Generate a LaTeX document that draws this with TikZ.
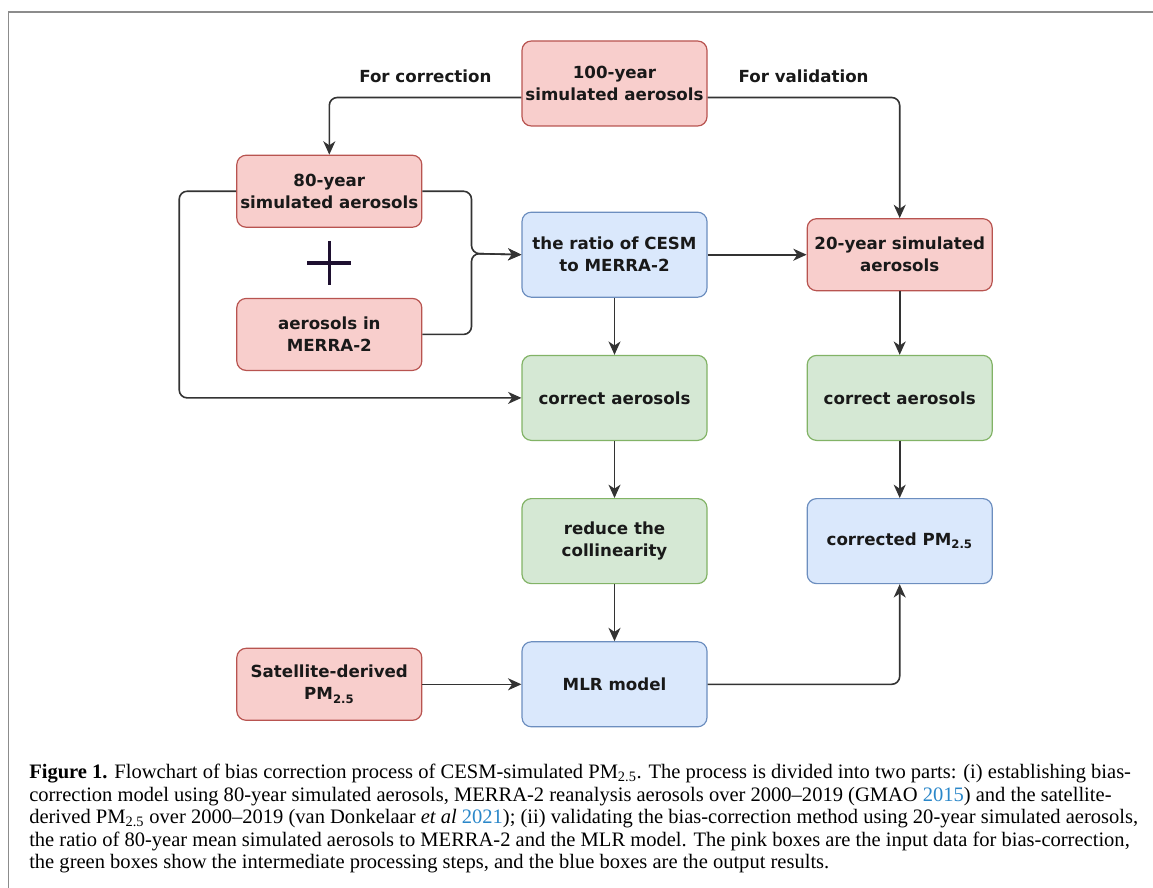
\documentclass[tikz,border=0pt]{standalone}
\usepackage{fontspec}
\setmainfont{Liberation Serif}
\setsansfont{DejaVu Sans}
\usepackage{xcolor}
\definecolor{pinkFill}{HTML}{F8CECC}
\definecolor{pinkLine}{HTML}{B85450}
\definecolor{blueFill}{HTML}{DAE8FC}
\definecolor{blueLine}{HTML}{6C8EBF}
\definecolor{greenFill}{HTML}{D5E8D4}
\definecolor{greenLine}{HTML}{82B366}
\definecolor{lineDark}{HTML}{333333}
\definecolor{frameGray}{HTML}{8C8C8C}
\definecolor{citeBlue}{HTML}{2A87C9}
\definecolor{plusDark}{HTML}{1E1030}
\usepackage{tikz}
\usetikzlibrary{positioning,calc,arrows.meta}
\tikzset{%
  flowBox/.style={%
    rectangle,
    rounded corners=7pt,
    line width=0.9pt,
    minimum width=138.75pt,
    minimum height=63.75pt,
    align=center,
    inner sep=2pt,
    text=black!90,
    font=\sffamily\bfseries\fontsize{12.5}{16.5}\selectfont
  },
  inputBox/.style={%
    flowBox,
    draw=pinkLine,
    fill=pinkFill,
    minimum height=54pt
  },
  stepBox/.style={%
    flowBox,
    draw=greenLine,
    fill=greenFill
  },
  outputBox/.style={%
    flowBox,
    draw=blueLine,
    fill=blueFill
  },
  arrowLine/.style={%
    -{Stealth[length=10pt,width=9pt,inset=3pt]},
    line width=1.2pt,
    color=lineDark,
    rounded corners=6pt
  },
  pathLabel/.style={%
    font=\sffamily\bfseries\fontsize{12.5}{15}\selectfont,
    text=black!90
  }
}

\begin{document}
\begin{tikzpicture}[x=0.75pt, y=-0.75pt]
  \useasboundingbox (0,0) rectangle (1153,888);
  \draw[frameGray, line width=1.3pt] (8.4,895) -- (8.4,12.3) -- (1160,12.3);

  % middle column
  \node[inputBox, minimum height=63.75pt] (hundred) at (614.5,83.5) {100-year\\simulated aerosols};
  \node[outputBox, below=63.75pt of hundred] (ratio) {the ratio of CESM\\to MERRA-2};
  \node[stepBox, below=42.75pt of ratio] (correctMid) {correct aerosols};
  \node[stepBox, below=42.75pt of correctMid] (reduce) {reduce the\\collinearity};
  \node[outputBox, below=42.75pt of reduce] (mlr) {MLR model};

  % right column
  \node[inputBox, right=74.25pt of ratio] (twenty) {20-year simulated\\aerosols};
  \node[stepBox, right=74.25pt of correctMid] (correctRight) {correct aerosols};
  \node[outputBox, right=74.25pt of reduce] (corrected) {corrected PM\textsubscript{2.5}};

  % left column
  \node[inputBox, left=74.25pt of ratio, yshift=47.6pt] (eighty) {80-year\\simulated aerosols};
  \node[inputBox, below=52.5pt of eighty] (merra) {aerosols in\\MERRA-2};
  \node[inputBox, left=74.25pt of mlr] (satellite) {Satellite-derived\\PM\textsubscript{2.5}};

  % plus sign
  \coordinate (plusMid) at ($(eighty.south)!0.5!(merra.north)$);
  \draw[plusDark, line width=2.7pt] ([yshift=16.5pt]plusMid) -- ([yshift=-16.5pt]plusMid)
    ([xshift=-16.5pt]plusMid) -- ([xshift=16.5pt]plusMid);

  % connectors
  \draw[arrowLine] ([yshift=-10.5pt]hundred.west) -| node[pathLabel, pos=0.25, above=7pt] (corrLabel) {For correction} (eighty.north);
  \draw[arrowLine] ([yshift=-10.5pt]hundred.east) -| node[pathLabel, pos=0.25, above=7pt] (valLabel) {For validation} (twenty.north);
  \coordinate (merge) at (471.5,253.5);
  \draw[arrowLine] (eighty.east) -| (merge) -- (ratio.west);
  \draw[arrowLine] (merra.east) -| (merge) -- (ratio.west);
  \draw[arrowLine] (eighty.west) -- ++(-57,0) |- (correctMid.west);
  \draw[arrowLine] (ratio) -- (twenty);
  \draw[arrowLine] (ratio) -- (correctMid);
  \draw[arrowLine] (correctMid) -- (reduce);
  \draw[arrowLine] (reduce) -- (mlr);
  \draw[arrowLine] (twenty) -- (correctRight);
  \draw[arrowLine] (correctRight) -- (corrected);
  \draw[arrowLine] (satellite) -- (mlr);
  \draw[arrowLine] (mlr.east) -| (corrected.south);

  % caption
  \node[anchor=north west, align=left, inner sep=0pt, font=\fontsize{15.4}{16.9}\selectfont] (caption) at (29,764)
    {\textbf{Figure 1.} Flowchart of bias correction process of CESM-simulated PM\textsubscript{2.5}. The process is divided into two parts: (i) establishing bias-\\
     correction model using 80-year simulated aerosols, MERRA-2 reanalysis aerosols over 2000--2019 (GMAO \textcolor{citeBlue}{2015}) and the satellite-\\
     derived PM\textsubscript{2.5} over 2000--2019 (van Donkelaar \textit{et al} \textcolor{citeBlue}{2021}); (ii) validating the bias-correction method using 20-year simulated aerosols,\\
     the ratio of 80-year mean simulated aerosols to MERRA-2 and the MLR model. The pink boxes are the input data for bias-correction,\\
     the green boxes show the intermediate processing steps, and the blue boxes are the output results.};
\end{tikzpicture}
\end{document}
